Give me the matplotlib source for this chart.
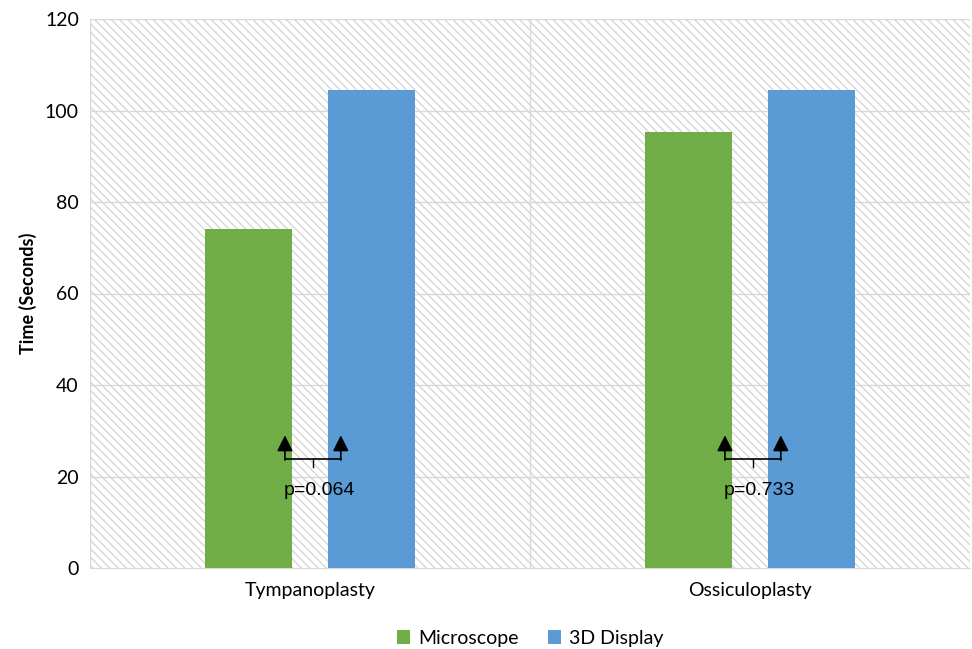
import numpy as np
import matplotlib.pyplot as plt
from matplotlib.patches import Rectangle

plt.rcParams['font.family'] = ['Lato', 'DejaVu Sans']
plt.rcParams['hatch.color'] = '#d6d6d6'
plt.rcParams['hatch.linewidth'] = 1.0

categories = ['Tympanoplasty', 'Ossiculoplasty']
microscope = [74.1, 95.3]
display3d = [104.5, 104.5]
pvalues = ['p=0.064', 'p=0.733']

green = '#70ad47'
blue = '#5b9bd5'

fig = plt.figure(figsize=(9.72, 6.49), dpi=100)
ax = fig.add_axes([90/972, 81/649, 880/972, 549/649])

x = np.arange(len(categories))
w = 0.198
off = 0.14

# hatched background
ax.add_patch(Rectangle((0, 0), 1, 1, transform=ax.transAxes, facecolor='white',
                       edgecolor='#d6d6d6', hatch='\\\\\\\\', lw=0, zorder=0))

ax.bar(x - off, microscope, w, color=green, label='Microscope', zorder=3)
ax.bar(x + off, display3d, w, color=blue, label='3D Display', zorder=3)

ax.set_xlim(-0.5, 1.5)
ax.set_ylim(0, 120)
ax.set_yticks(range(0, 121, 20))
ax.set_xticks(x)
ax.set_xticklabels(categories, fontsize=14)
ax.tick_params(axis='y', labelsize=14, length=0, pad=8)
ax.tick_params(axis='x', length=0, pad=10)
for yv in range(20, 121, 20):
    ax.axhline(yv, color='#d9d9d9', lw=1, zorder=1)
for xv in [-0.5, 0.5, 1.5]:
    ax.axvline(xv, color='#d9d9d9', lw=1, zorder=1)
for s in ['top', 'right', 'left']:
    ax.spines[s].set_visible(False)
ax.spines['bottom'].set_color('#d9d9d9')
ax.set_ylabel('Time (Seconds)', fontsize=13, fontweight='bold', labelpad=6)

# significance brackets
for i, p in enumerate(pvalues):
    xl = x[i] - 0.057
    xr = x[i] + 0.07
    xc = (xl + xr) / 2
    ax.plot([xl, xr], [23.8, 23.8], color='black', lw=1.2, zorder=4)
    ax.plot([xc, xc], [23.8, 22.0], color='black', lw=1, zorder=4)
    for xa in [xl, xr]:
        ax.annotate('', xy=(xa, 29.0), xytext=(xa, 23.6),
                    arrowprops=dict(arrowstyle='-|>', color='black', lw=1.2,
                                    mutation_scale=24, shrinkA=0, shrinkB=0),
                    zorder=5)
    ax.text(xc + 0.015, 16.9, p, ha='center', va='center', fontsize=14,
            family=['Liberation Sans', 'DejaVu Sans'], zorder=5)

ax.legend(loc='center', bbox_to_anchor=(0.5, -0.128), ncol=2, frameon=False,
          fontsize=14, handlelength=0.7, handleheight=0.7, columnspacing=1.5,
          handletextpad=0.4)

fig.savefig('out.png', dpi=100)
